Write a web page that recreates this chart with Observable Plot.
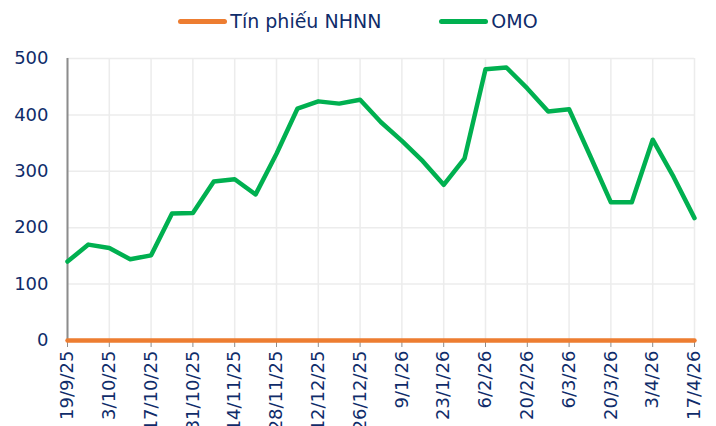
<!DOCTYPE html>
<html><head><meta charset="utf-8">
<script src="https://cdn.jsdelivr.net/npm/d3@7"></script>
<script src="https://cdn.jsdelivr.net/npm/@observablehq/plot@0.6"></script>
<style>
body{margin:0;overflow:hidden;background:#fff;font-family:"DejaVu Sans",sans-serif;}
#wrap{position:relative;width:716px;height:426px;overflow:hidden;}
#legend{position:absolute;top:10px;left:0;width:716px;display:flex;justify-content:center;gap:58px;color:#0f2c6a;font-size:19px;line-height:22px;z-index:2;}
.item{display:flex;align-items:center;gap:3px}
.sw{width:49px;height:5px;border-radius:3px}
</style></head><body><div id="wrap"><div id="legend"></div><div id="chart"></div></div>
<script>
const dates = ["19/9/25","26/9/25","3/10/25","10/10/25","17/10/25","24/10/25","31/10/25","7/11/25","14/11/25","21/11/25","28/11/25","5/12/25","12/12/25","19/12/25","26/12/25","2/1/26","9/1/26","16/1/26","23/1/26","30/1/26","6/2/26","13/2/26","20/2/26","27/2/26","6/3/26","13/3/26","20/3/26","27/3/26","3/4/26","10/4/26","17/4/26"];
const tinPhieu = [0,0,0,0,0,0,0,0,0,0,0,0,0,0,0,0,0,0,0,0,0,0,0,0,0,0,0,0,0,0,0];
const omo = [140,170,164,144,151,225,226,282,286,259,331,411,424,420,427,387,354,318,276,323,481,484,447,406,410,328,245,245,356,290,217];
const yTicks = [0,100,200,300,400,500];
const seriesNames = ["Tín phiếu NHNN","OMO"];
const seriesColors = ["#ED7D31","#00B050"];
const seriesValues = [tinPhieu, omo];
const xTicks = dates.filter((d,i)=>i%2===0);

const rows = [];
seriesNames.forEach((name,s)=>seriesValues[s].forEach((v,i)=>rows.push({date:dates[i],value:v,series:name})));

const legend = document.getElementById("legend");
seriesNames.forEach((name,s)=>{
  const it=document.createElement("div");it.className="item";
  const sw=document.createElement("span");sw.className="sw";sw.style.background=seriesColors[s];
  const t=document.createElement("span");t.textContent=name;
  it.append(sw,t);legend.append(it);
});

const chart = Plot.plot({
  width:716,height:426,marginLeft:67,marginRight:22,marginTop:58,marginBottom:86,
  style:{fontFamily:"DejaVu Sans, sans-serif",background:"#fff"},
  x:{type:"point",domain:dates,padding:0,round:false,label:null},
  y:{domain:[0,500],label:null},
  color:{domain:seriesNames,range:seriesColors},
  marks:[
    Plot.gridY(yTicks.slice(1),{stroke:"#ececec",strokeOpacity:1,strokeWidth:1.5}),
    Plot.gridX(xTicks,{stroke:"#ececec",strokeOpacity:1,strokeWidth:1.5}),
    Plot.axisY({ticks:yTicks,tickSize:0,tickPadding:19,fontSize:18,fill:"#0f2c6a",label:null}),
    Plot.axisX({ticks:xTicks,tickRotate:-90,tickSize:7,tickPadding:3,fontSize:18,stroke:"#8c8c8c",fill:"#0f2c6a",label:null}),
    Plot.ruleX([dates[0]],{y1:0,y2:500,stroke:"#8c8c8c",strokeWidth:2}),
    Plot.line(rows.filter(r=>r.series==="OMO"),{x:"date",y:"value",stroke:"series",strokeWidth:4.5}),
    Plot.line(rows.filter(r=>r.series!=="OMO"),{x:"date",y:"value",stroke:"series",strokeWidth:4.5})
  ]
});
document.getElementById("chart").append(chart);
</script></body></html>
